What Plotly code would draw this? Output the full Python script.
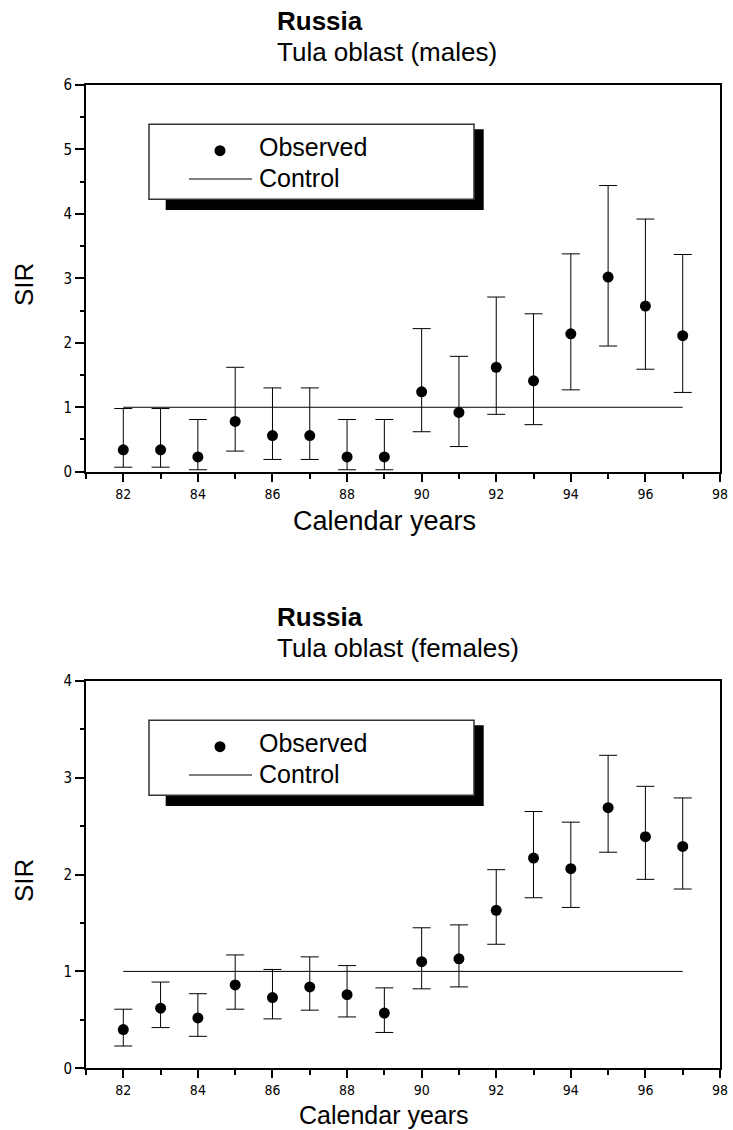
import plotly.graph_objects as go

# ---------------- data ----------------
years = list(range(82, 98))

males_sir = [0.34, 0.34, 0.23, 0.78, 0.56, 0.56, 0.23, 0.23, 1.24, 0.92, 1.62, 1.41, 2.14, 3.02, 2.57, 2.11]
males_upper = [0.98, 0.98, 0.81, 1.62, 1.30, 1.30, 0.81, 0.81, 2.22, 1.79, 2.71, 2.45, 3.38, 4.44, 3.92, 3.37]
males_lower = [0.07, 0.07, 0.03, 0.32, 0.19, 0.19, 0.03, 0.03, 0.62, 0.39, 0.89, 0.73, 1.27, 1.95, 1.59, 1.23]

females_sir = [0.40, 0.62, 0.52, 0.86, 0.73, 0.84, 0.76, 0.57, 1.10, 1.13, 1.63, 2.17, 2.06, 2.69, 2.39, 2.29]
females_upper = [0.61, 0.89, 0.77, 1.17, 1.02, 1.15, 1.06, 0.83, 1.45, 1.48, 2.05, 2.65, 2.54, 3.23, 2.91, 2.79]
females_lower = [0.23, 0.42, 0.33, 0.61, 0.51, 0.60, 0.53, 0.37, 0.82, 0.84, 1.28, 1.76, 1.66, 2.23, 1.95, 1.85]

control_years = [82, 97]
control_level = [1, 1]

x_tickvals = [82, 84, 86, 88, 90, 92, 94, 96, 98]
x_ticktext = ["82", "84", "86", "88", "90", "92", "94", "96", "98"]

# ---------------- layout helpers ----------------
W, H = 733, 1130
def px(x):
    return x / W
def py(y):
    return 1 - y / H

FONT = "Liberation Sans, Arial, Helvetica, sans-serif"
TICKFONT = "Liberation Sans Narrow, Arial Narrow, DejaVu Sans Condensed, Liberation Sans, Arial, sans-serif"

fig = go.Figure()

panels = [
    dict(sir=males_sir, up=males_upper, lo=males_lower, xa="x", ya="y"),
    dict(sir=females_sir, up=females_upper, lo=females_lower, xa="x2", ya="y2"),
]

for p in panels:
    fig.add_trace(go.Scatter(
        x=control_years, y=control_level, mode="lines",
        line=dict(color="black", width=1), xaxis=p["xa"], yaxis=p["ya"],
        showlegend=False, hoverinfo="skip"))
    fig.add_trace(go.Scatter(
        x=years, y=p["sir"], mode="markers",
        marker=dict(color="black", size=11),
        error_y=dict(type="data", symmetric=False,
                     array=[u - s for u, s in zip(p["up"], p["sir"])],
                     arrayminus=[s - l for s, l in zip(p["sir"], p["lo"])],
                     color="black", thickness=1, width=9),
        xaxis=p["xa"], yaxis=p["ya"], showlegend=False))

xdom = [px(86), px(720)]
top_dom = [py(471.7), py(85)]
bot_dom = [py(1068.3), py(680.7)]

xaxis_common = dict(
    range=[81, 98], domain=xdom, showgrid=False, zeroline=False, automargin=False,
    showline=True, linecolor="black", linewidth=2, mirror=True,
    ticks="outside", ticklen=8, tickwidth=1.5, tickcolor="black",
    tickvals=x_tickvals, ticktext=x_ticktext,
    tickfont=dict(family=TICKFONT, size=14, color="black"),
    minor=dict(dtick=1, tick0=81, ticks="outside", ticklen=5, tickwidth=1.5, tickcolor="black"),
)
yaxis_common = dict(
    showgrid=False, zeroline=False, automargin=False,
    showline=True, linecolor="black", linewidth=2, mirror=True,
    ticks="outside", ticklen=9, tickwidth=1.5, tickcolor="black",
    dtick=1, tick0=0,
    tickfont=dict(family=TICKFONT, size=15, color="black"),
    minor=dict(dtick=0.5, tick0=0, ticks="outside", ticklen=4, tickwidth=1.5, tickcolor="black"),
)

fig.update_layout(
    template="none",
    width=W, height=H, margin=dict(l=0, r=0, t=0, b=0, pad=0), autosize=False,
    paper_bgcolor="white", plot_bgcolor="white", showlegend=False,
    font=dict(family=FONT, color="black"),
    xaxis=dict(**xaxis_common, anchor="y"),
    yaxis=dict(**yaxis_common, range=[0, 6], domain=top_dom, anchor="x"),
    xaxis2=dict(**xaxis_common, anchor="y2"),
    yaxis2=dict(**yaxis_common, range=[0, 4], domain=bot_dom, anchor="x2"),
)

panel_texts = ["Tula oblast (males)", "Tula oblast (females)"]
xlabel_y = [521, 1115]
xlabel_size = [27, 25]
for i, sub in enumerate(panel_texts):
    dy = 596 * i
    # two-line heading in one text block; base size sets the line pitch
    fig.add_annotation(
        text=("<span style='font-size:26px'><b>Russia</b></span><br>"
              "<span style='font-size:26px'>" + sub + "</span>"),
        xref="paper", yref="paper", x=px(275), y=py(36 + dy),
        xanchor="left", yanchor="middle", align="left",
        showarrow=False, font=dict(family=FONT, size=24, color="black"))
    fig.add_annotation(text="Calendar years", xref="paper", yref="paper",
                       x=px(384), y=py(xlabel_y[i]), xanchor="center", yanchor="middle",
                       showarrow=False, font=dict(family=FONT, size=xlabel_size[i], color="black"))
    fig.add_annotation(text="SIR", xref="paper", yref="paper",
                       x=px(24), y=py(285 + dy), xanchor="center", yanchor="middle",
                       textangle=-90, showarrow=False, font=dict(family=FONT, size=26, color="black"))
    # legend box with shadow
    fig.add_shape(type="rect", xref="paper", yref="paper", x0=px(165.7), x1=px(483.7),
                  y0=py(210 + dy), y1=py(129.3 + dy), fillcolor="black", line=dict(width=0), layer="above")
    fig.add_shape(type="rect", xref="paper", yref="paper", x0=px(149), x1=px(474),
                  y0=py(199.3 + dy), y1=py(124.3 + dy), fillcolor="white",
                  line=dict(color="#333333", width=1.5), layer="above")
    fig.add_shape(type="circle", xref="paper", yref="paper", x0=px(214.5), x1=px(225.5),
                  y0=py(156.2 + dy), y1=py(145.2 + dy), fillcolor="black", line=dict(width=0), layer="above")
    fig.add_shape(type="line", xref="paper", yref="paper", x0=px(189), x1=px(252),
                  y0=py(179 + dy), y1=py(179 + dy), line=dict(color="black", width=1), layer="above")
    fig.add_annotation(text="Observed", xref="paper", yref="paper",
                       x=px(257), y=py(146.7 + dy), xanchor="left", yanchor="middle",
                       showarrow=False, font=dict(family=FONT, size=25, color="black"))
    fig.add_annotation(text="Control", xref="paper", yref="paper",
                       x=px(257), y=py(178.3 + dy), xanchor="left", yanchor="middle",
                       showarrow=False, font=dict(family=FONT, size=25, color="black"))

fig.write_html("out.html")
